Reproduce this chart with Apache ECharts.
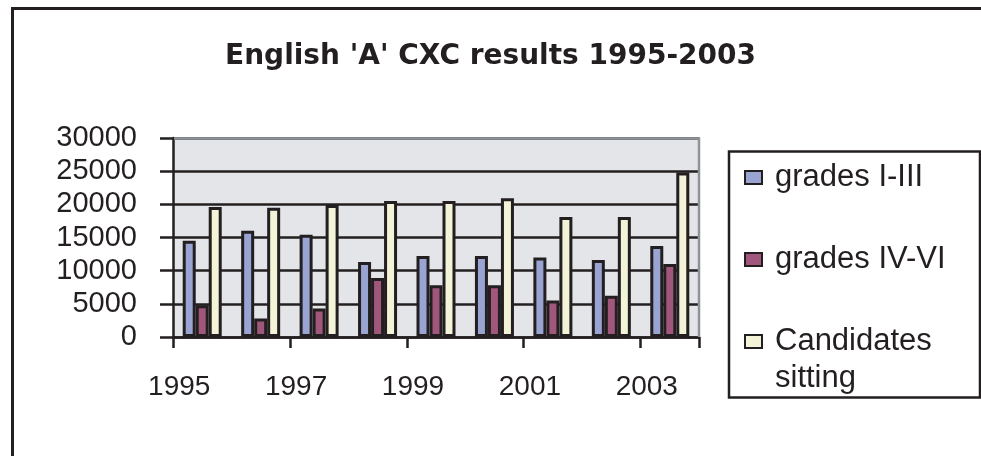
<!DOCTYPE html>
<html>
<head>
<meta charset="utf-8">
<title>English 'A' CXC results 1995-2003</title>
<script src="https://cdn.jsdelivr.net/npm/echarts@6.0.0/dist/echarts.min.js"></script>
<style>
  html, body { margin: 0; padding: 0; background: #fff; }
  #main { width: 981px; height: 456px; }
</style>
</head>
<body>
<div id="main"></div>
<script>
// data
var years = ['1995', '1996', '1997', '1998', '1999', '2000', '2001', '2002', '2003'];
var gradesI_III = [14500, 16000, 15400, 11300, 12200, 12200, 12000, 11600, 13700];
var gradesIV_VI = [4800, 2800, 4300, 8900, 7800, 7800, 5500, 6200, 11000];
var candidates = [19600, 19500, 19900, 20500, 20500, 20900, 18100, 18100, 24800];
var yTicks = [0, 5000, 10000, 15000, 20000, 25000, 30000];

var font = '"Liberation Sans", Arial, sans-serif';
var ink = '#231f20';
var frameGrey = '#8d9398';

var chart = echarts.init(document.getElementById('main'));

function barSeries(name, values, color) {
  return {
    name: name,
    type: 'bar',
    data: values,
    barWidth: 13,
    barGap: '0%',
    z: 5,
    itemStyle: {
      color: color,
      borderColor: ink,
      borderWidth: 3
    }
  };
}

var option = {
  animation: false,
  backgroundColor: '#fff',
  title: {
    text: "English 'A' CXC results 1995-2003",
    left: 'center',
    top: 38,
    textStyle: {
      fontFamily: '"DejaVu Sans", sans-serif',
      fontSize: 28,
      fontWeight: 'bold',
      color: ink
    }
  },
  grid: {
    left: 173,
    top: 138,
    right: 282,
    bottom: 119,
    show: true,
    backgroundColor: '#e4e5e8',
    borderWidth: 0,
    outerBoundsMode: 'none'
  },
  legend: {
    orient: 'vertical',
    left: 744,
    top: 122,
    padding: 0,
    itemGap: -29,
    itemWidth: 17,
    itemHeight: 13,
    icon: 'rect',
    textStyle: {
      fontFamily: font,
      fontSize: 31,
      color: ink,
      lineHeight: 37,
      padding: [0, 0, 0, 8]
    },
    // blank lines keep every entry three lines tall so the icon sits on the first text line
    formatter: function (name) {
      return name === 'Candidates sitting' ? '\nCandidates\nsitting' : '\n' + name + '\n';
    }
  },
  xAxis: {
    type: 'category',
    data: years,
    z: 3,
    axisLine: { lineStyle: { color: ink, width: 2.5 } },
    axisTick: { show: true, length: 11, lineStyle: { color: ink, width: 2.5 } },
    axisLabel: {
      interval: 1,
      margin: 36,
      padding: [0, 46, 0, 0],
      fontFamily: font,
      fontSize: 28,
      color: ink
    },
    splitLine: { show: false }
  },
  yAxis: {
    type: 'value',
    min: yTicks[0],
    max: yTicks[yTicks.length - 1],
    interval: yTicks[1] - yTicks[0],
    z: 3,
    axisLine: { show: true, lineStyle: { color: ink, width: 2.5 } },
    axisTick: { show: true, length: 13, lineStyle: { color: ink, width: 2.5 } },
    axisLabel: {
      margin: 36,
      fontFamily: font,
      fontSize: 29,
      color: ink,
      formatter: function (v) { return String(v); }
    },
    splitLine: {
      show: true,
      lineStyle: { color: ink, width: 2.5, type: 'solid' }
    }
  },
  graphic: [
    {
      // outer chart frame (top and left edges visible)
      type: 'polyline',
      shape: { points: [[12.5, 456], [12.5, 8.5], [981, 8.5]] },
      style: { fill: null, stroke: ink, lineWidth: 3 },
      silent: true
    },
    {
      // grey top and right edges of the plot area
      type: 'polyline',
      z: 100,
      shape: { points: [[174, 138.5], [699, 138.5], [699, 337]] },
      style: { fill: null, stroke: frameGrey, lineWidth: 2.5 },
      silent: true
    },
    {
      // legend box
      type: 'rect',
      shape: { x: 729, y: 151.5, width: 251, height: 246 },
      style: { fill: null, stroke: ink, lineWidth: 2.5 },
      silent: true
    }
  ],
  series: [
    barSeries('grades I-III', gradesI_III, '#99a4d3'),
    barSeries('grades IV-VI', gradesIV_VI, '#a1567b'),
    barSeries('Candidates sitting', candidates, '#f3f3d8')
  ]
};

chart.setOption(option);
</script>
</body>
</html>
